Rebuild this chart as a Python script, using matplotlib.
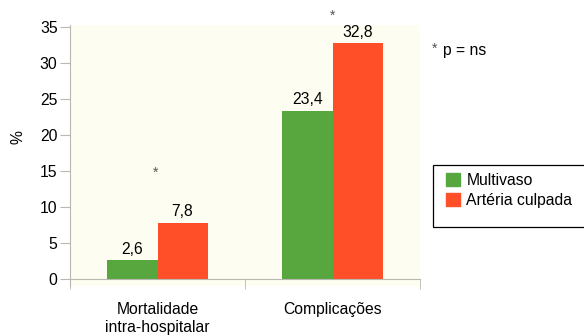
import numpy as np
import matplotlib.pyplot as plt
from matplotlib.patches import Patch, Rectangle

plt.rcParams['font.family'] = ['Liberation Sans', 'DejaVu Sans']

categorias = ['Mortalidade\nintra-hospitalar', 'Complicações']
multivaso = [2.6, 23.4]
arteria_culpada = [7.8, 32.8]
series = ['Multivaso', 'Artéria culpada']
yticks = [0, 5, 10, 15, 20, 25, 30, 35]

verde = '#58a63e'
vermelho = '#ff4f28'
fundo = '#fdfdf1'
cinza = '#b8b8b0'
fs = 11.3

W, H = 584, 335
fig = plt.figure(figsize=(W / 100, H / 100), dpi=100)
ax = fig.add_axes([70 / W, 49 / H, 350 / W, 261 / H])
ax.set_facecolor(fundo)

x = np.arange(len(categorias)) + 0.5
w = 0.286
b1 = ax.bar(x - w / 2, multivaso, w, color=verde, label=series[0])
b2 = ax.bar(x + w / 2, arteria_culpada, w, color=vermelho, label=series[1])

def fmt(v):
    return f'{v:.1f}'.replace('.', ',')

for barras, vals in ((b1, multivaso), (b2, arteria_culpada)):
    for r, v in zip(barras, vals):
        ax.annotate(fmt(v), (r.get_x() + r.get_width() / 2, v),
                    xytext=(0, 2.5), textcoords='offset points',
                    ha='center', va='bottom', fontsize=fs)

# asteriscos de significancia
ax.text(x[0] - 0.01, 14.7, '*', ha='center', va='center', fontsize=10,
        color='#555555')
ax.text(x[1], 36.6, '*', ha='center', va='center', fontsize=10,
        color='#555555', clip_on=False)

ax.set_xlim(0, 2)
ax.set_ylim(-1, 35.3)
ax.set_yticks(yticks)
ax.tick_params(axis='y', length=7, color=cinza, labelsize=fs, pad=2)

ax.set_xticks(x)
ax.set_xticks([0, 1, 2], minor=True)
ax.tick_params(axis='x', which='major', length=0, pad=17, labelsize=fs)
ax.tick_params(axis='x', which='minor', length=7, color=cinza, direction='out')
ax.set_xticklabels(categorias, fontsize=fs, linespacing=1.0)

ax.spines['top'].set_visible(False)
ax.spines['right'].set_visible(False)
ax.spines['bottom'].set_position(('data', 0))
for s in ('left', 'bottom'):
    ax.spines[s].set_color(cinza)

fig.text(18 / W, 1 - 137 / H, '%', rotation=90, ha='center', va='center',
         fontsize=fs)

fig.text(435 / W, 1 - 49 / H, '*', ha='center', va='center', fontsize=10,
         color='#555555')
fig.text(443 / W, 1 - 50 / H, 'p = ns', ha='left', va='center', fontsize=fs)

# caixa da legenda (passa da borda direita)
fig.patches.append(Rectangle((433 / W, 1 - 227 / H), 170 / W, 62 / H,
                             transform=fig.transFigure, facecolor='white',
                             edgecolor='black', linewidth=0.9))
handles = [Patch(color=verde, label=series[0]), Patch(color=vermelho, label=series[1])]
fig.legend(handles=handles, loc='upper left',
           bbox_to_anchor=(446 / W, 1 - 173 / H),
           fontsize=fs, frameon=False, borderpad=0, borderaxespad=0,
           handlelength=0.9, handleheight=0.85, handletextpad=0.4,
           labelspacing=0.3)

fig.savefig('out.png', dpi=100)
